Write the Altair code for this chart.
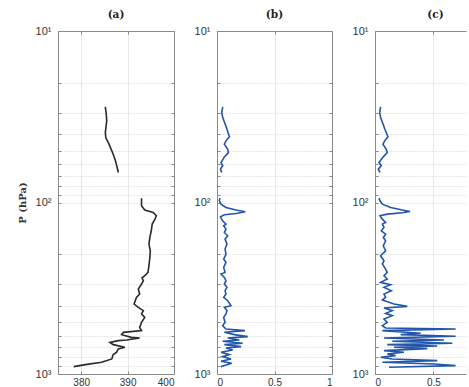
import altair as alt
import pandas as pd

# ---- Panel (a): profile in two segments (value, pressure hPa) ----
a_upper_v = [385.2, 385.4, 385.5, 385.2, 385.3, 386.0, 386.9, 387.4, 388.0]
a_upper_p = [27.7, 30.5, 33.4, 39.1, 41.8, 45.7, 52.3, 57.2, 66.8]

a_lower_v = [393.0, 393.0, 393.7, 395.5, 396.2, 395.9, 395.3, 395.1, 394.8, 394.6,
             394.9, 394.8, 394.6, 394.4, 393.7, 393.1, 393.4, 393.0, 392.3, 392.6,
             391.9, 391.4, 392.3, 393.4, 393.0, 393.7, 393.0, 392.6, 393.0, 389.1,
             388.7, 390.8, 392.6, 389.8, 388.0, 386.2, 386.9, 389.4, 388.0, 387.6,
             386.9, 386.6, 384.4, 380.9, 378.4]
a_lower_p = [94.3, 104.5, 110.7, 114.3, 119.5, 124.9, 133.6, 146.2, 159.9, 174.7,
             191.1, 209.1, 233.7, 255.7, 267.3, 275.6, 285.8, 298.8, 319.5, 341.7,
             357.6, 390.7, 408.9, 427.4, 446.7, 467.6, 500.0, 534.6, 558.8, 571.7,
             589.7, 611.4, 616.3, 633.1, 639.1, 653.8, 674.3, 699.1, 714.3, 747.6,
             770.9, 816.8, 855.0, 881.8, 905.6]

# ---- Panel (b) ----
b_upper_v = [0.050, 0.041, 0.050, 0.070, 0.087, 0.108, 0.078, 0.064, 0.093, 0.099,
             0.064, 0.035, 0.050, 0.030, 0.041]
b_upper_p = [27.7, 29.9, 32.0, 34.7, 37.4, 41.4, 43.7, 45.7, 48.9, 51.2,
             54.2, 58.5, 61.1, 63.9, 66.8]

b_lower_v = [0.026, 0.020, 0.035, 0.078, 0.165, 0.246, 0.165, 0.064, 0.030, 0.049,
             0.078, 0.058, 0.078, 0.064, 0.093, 0.070, 0.087, 0.070, 0.078, 0.058,
             0.078, 0.058, 0.070, 0.035, 0.064, 0.078, 0.064, 0.087, 0.070, 0.078,
             0.058, 0.093, 0.122, 0.064, 0.087, 0.078, 0.058, 0.070, 0.049, 0.078,
             0.243, 0.064, 0.151, 0.267, 0.093, 0.194, 0.049, 0.223, 0.064, 0.209,
             0.078, 0.136, 0.035, 0.107, 0.049, 0.122, 0.035, 0.128, 0.064, 0.035]
b_lower_p = [94.3, 97.7, 102.2, 106.9, 110.7, 113.3, 115.8, 117.9, 121.1, 127.9,
             133.7, 136.7, 142.9, 149.5, 156.3, 163.5, 174.8, 186.9, 199.8, 213.7,
             223.5, 239.0, 255.6, 261.4, 273.3, 285.8, 298.8, 312.5, 326.8, 341.7,
             357.4, 373.7, 399.6, 408.6, 427.4, 446.9, 467.3, 499.7, 522.5, 546.4,
             558.8, 571.4, 589.6, 605.7, 616.6, 633.4, 644.8, 662.3, 674.3, 692.6,
             705.1, 724.2, 747.2, 770.9, 791.8, 817.0, 843.0, 866.0, 893.4, 905.6]

# ---- Panel (c) ----
c_upper_v = [0.048, 0.040, 0.048, 0.068, 0.085, 0.111, 0.083, 0.068, 0.097, 0.105,
             0.071, 0.034, 0.054, 0.028, 0.043]
c_upper_p = [27.7, 29.9, 32.0, 34.7, 37.4, 41.4, 43.7, 45.7, 48.9, 51.2,
             54.2, 58.5, 61.1, 63.9, 66.8]

c_lower_v = [0.034, 0.043, 0.063, 0.134, 0.234, 0.300, 0.234, 0.105, 0.043, 0.063,
             0.091, 0.063, 0.077, 0.054, 0.091, 0.071, 0.091, 0.071, 0.091, 0.048,
             0.077, 0.063, 0.091, 0.105, 0.077, 0.105, 0.048, 0.134, 0.077, 0.140,
             0.077, 0.091, 0.063, 0.163, 0.277, 0.077, 0.148, 0.091, 0.148, 0.077,
             0.105, 0.063, 0.091, 0.691, 0.063, 0.391, 0.220, 0.691, 0.077, 0.591,
             0.148, 0.663, 0.105, 0.534, 0.163, 0.448, 0.077, 0.248, 0.105, 0.177,
             0.048, 0.148, 0.534, 0.063, 0.505, 0.691, 0.120]
c_lower_p = [94.3, 97.7, 102.2, 106.9, 110.7, 112.8, 114.8, 116.9, 119.5, 125.0,
             130.7, 133.7, 139.8, 146.2, 152.9, 159.8, 167.2, 178.7, 191.1, 204.4,
             218.6, 228.5, 244.3, 255.6, 267.3, 279.5, 292.2, 301.5, 312.5, 326.8,
             341.7, 357.4, 370.3, 390.8, 403.2, 412.3, 427.4, 443.0, 457.0, 477.9,
             499.7, 522.5, 539.1, 546.4, 558.8, 579.2, 589.6, 603.0, 616.6, 633.4,
             644.8, 662.3, 674.3, 686.4, 698.8, 711.5, 730.7, 747.2, 764.1, 781.4,
             799.1, 817.0, 835.6, 854.5, 873.8, 893.4, 913.8]

# ---- Axis ticks ----
y_ticks = [10, 20, 30, 40, 50, 60, 70, 80, 90,
           100, 200, 300, 400, 500, 600, 700, 800, 900, 1000]
a_xticks = [380, 390, 400]
b_xticks = [0, 0.5, 1]
c_xticks = [0, 0.5]

H = 343
EDGE = "#8a8a8a"
LABEL_FONT = "Liberation Sans"
TITLE_FONT = "DejaVu Serif"
MAJOR = "datum.value == 10 || datum.value == 100 || datum.value == 1000"
Y_LABEL = ("datum.value == 10 ? '10¹' : datum.value == 100 ? '10²' : "
           "datum.value == 1000 ? '10³' : ''")


def frame(v_lists, p_lists):
    rows = []
    for s, (vs, ps) in enumerate(zip(v_lists, p_lists)):
        for i, (v, p) in enumerate(zip(vs, ps)):
            rows.append({"v": v, "p": p, "seg": s, "i": i})
    return pd.DataFrame(rows)


def panel(df, title, xdom, xlabels, width, color, ytitle=None, right_edge=True, title_dx=0):
    xs = alt.Scale(domain=xdom, nice=False, zero=False)
    ys = alt.Scale(type="log", domain=[10, 1000], reverse=True, nice=False)
    inner = [t for t in xlabels if xdom[0] < t < xdom[1]]
    base = alt.Chart(df)

    y_main = dict(values=y_ticks, labelExpr=Y_LABEL, labelOverlap=False, domain=False,
                  ticks=False, grid=True, labelPadding=7, labelFontSize=11,
                  labelFont=LABEL_FONT, labelColor="#333333", minExtent=0,
                  gridColor={"condition": {"test": MAJOR, "value": "#e2e2e2"}, "value": "#c4c4c4"},
                  gridDash={"condition": {"test": MAJOR, "value": [1, 0]}, "value": [1, 2]},
                  gridWidth=0.8)
    if ytitle:
        y_main.update(title=ytitle, titleFont=TITLE_FONT, titleFontSize=10,
                      titleFontWeight="bold", titleColor="#333333", titlePadding=8)
    else:
        y_main.update(title=None)

    main = base.mark_line(color=color, strokeWidth=1.6).encode(
        x=alt.X("v:Q", scale=xs, axis=alt.Axis(
            values=xlabels, format="~r", title=None, domain=False, ticks=False,
            grid=True, gridColor="#e2e2e2", gridWidth=0.8, labelPadding=3,
            labelFontSize=10, labelFont=LABEL_FONT, labelColor="#333333")),
        y=alt.Y("p:Q", scale=ys, axis=alt.Axis(**y_main)),
        detail="seg:N", order="i:Q")

    # inward ticks + frame on the bottom and left edges
    edge1 = base.mark_line(opacity=0).encode(
        x=alt.X("v:Q", scale=xs, axis=alt.Axis(
            orient="top", offset=-H, values=inner, labels=False, grid=False,
            domainColor=EDGE, tickColor=EDGE, tickSize=3, title=None)),
        y=alt.Y("p:Q", scale=ys, axis=alt.Axis(
            orient="right", offset=-width, values=y_ticks, labels=False, grid=False,
            domainColor=EDGE, tickColor=EDGE, tickSize=3, title=None, minExtent=0)),
        detail="seg:N", order="i:Q")

    # inward ticks + frame on the top and right edges
    if right_edge:
        y_edge2 = alt.Y("p:Q", scale=ys, axis=alt.Axis(
            orient="left", offset=-width, values=y_ticks, labels=False, grid=False,
            domainColor=EDGE, tickColor=EDGE, tickSize=3, title=None, minExtent=0))
    else:
        y_edge2 = alt.Y("p:Q", scale=ys, axis=None)
    edge2 = base.mark_line(opacity=0).encode(
        x=alt.X("v:Q", scale=xs, axis=alt.Axis(
            orient="bottom", offset=-H, values=inner, labels=False, grid=False,
            domainColor=EDGE, tickColor=EDGE, tickSize=3, title=None)),
        y=y_edge2,
        detail="seg:N", order="i:Q")

    return alt.layer(main, edge1, edge2).resolve_axis(
        x="independent", y="independent").properties(
        width=width, height=H,
        title=alt.TitleParams(title, font=TITLE_FONT, fontSize=10.5, fontWeight="bold",
                              color="#222222", offset=5, dx=title_dx))


pa = panel(frame([a_upper_v, a_lower_v], [a_upper_p, a_lower_p]), "(a)",
           [375, 400], a_xticks, 116, "#2a2a2a", ytitle="P (hPa)")
pb = panel(frame([b_upper_v, b_lower_v], [b_upper_p, b_lower_p]), "(b)",
           [0, 1], b_xticks, 115, "#2356a8")
pc = panel(frame([c_upper_v, c_lower_v], [c_upper_p, c_lower_p]), "(c)",
           [0, 0.78], c_xticks, 91, "#2356a8", right_edge=False, title_dx=15)

chart = alt.hconcat(pa, pb, pc, spacing=43, bounds="flush").properties(
    padding={"left": 17, "top": 9, "right": 1, "bottom": 0}
).configure_view(stroke=None)

chart.save("out.html", embed_options={"renderer": "svg", "actions": False})
